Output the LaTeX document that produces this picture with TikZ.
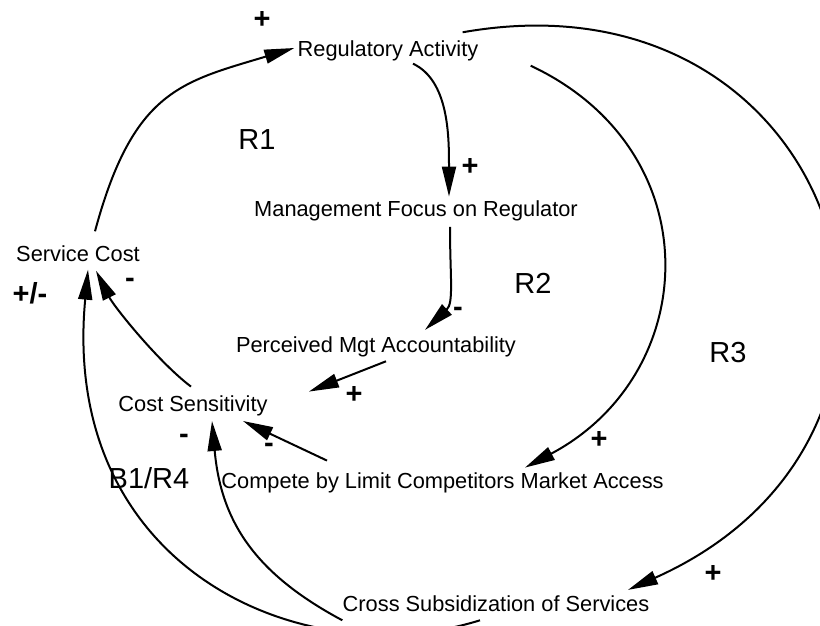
\documentclass[tikz,border=0pt]{standalone}
\usepackage{fontspec}
\setmainfont{Liberation Sans}
\usetikzlibrary{arrows.meta,calc}

\begin{document}
\begin{tikzpicture}[x=0.5pt,y=0.5pt,
  var/.style={anchor=base,inner sep=0pt,text height=8pt,text depth=2.3pt,font=\fontsize{10.9}{13}\selectfont},
  looplbl/.style={inner sep=0pt,font=\fontsize{14.5}{17}\selectfont},
  sgn/.style={inner sep=0pt,font=\fontsize{14.5}{17}\selectfont\bfseries},
  link/.style={line width=1pt,-{Triangle[length=15pt,width=7pt]}}]

\useasboundingbox (0,0) rectangle (820,626);

\node[var] (reg) at (388,569.3) {Regulatory Activity};
\node[var] (mgmt) at (416,409) {Management Focus on Regulator};
\node[var] (svc) at (78,364.3) {Service Cost};
\node[var] (perc) at (376,273.7) {Perceived Mgt Accountability};
\node[var] (costs) at (193,214) {Cost Sensitivity};
\node[var] (comp) at (442.5,137) {Compete by Limit Competitors Market Access};
\node[var] (cross) at (496,14.7) {Cross Subsidization of Services};

\node[looplbl] (r1) at (257,486) {R1};
\node[looplbl] (r2) at (533,343) {R2};
\node[looplbl] (r3) at (728,273) {R3};
\node[looplbl] (b1r4) at (149,148) {B1/R4};

\node[sgn] (s1) at (262,606) {+};
\node[sgn] (s2) at (470,459) {+};
\node[sgn] (s3) at (458,314) {-};
\node[sgn] (s4) at (30,333) {+/-};
\node[sgn] (s5) at (130,343) {-};
\node[sgn] (s6) at (354,231) {+};
\node[sgn] (s7) at (184,187) {-};
\node[sgn] (s8) at (269,178) {-};
\node[sgn] (s9) at (599,186) {+};
\node[sgn] (s10) at (713,52) {+};

\draw[link] ($(svc.north)+(17,14)$) .. controls +(38,141) and +(-113,-34) .. ($(reg.west)+(-3,3)$);
\draw[link] ($(reg.south)+(25,-2)$) .. controls +(36,-17) and +(0,60) .. ($(mgmt.north)+(33,4)$);
\draw[link] ($(mgmt.south)+(34,-5)$) .. controls +(0,-50) and +(29,27) .. ($(perc.north)+(49,6)$);
\draw[link] ($(perc.south)+(10,-4)$) -- ($(costs.north east)+(41,4)$);
\draw[link] ($(comp.north west)+(106,12)$) -- ($(costs.south)+(50,-4)$);
\draw[link] ($(costs.north)+(-2,9)$) .. controls +(-32,24) and +(18,-36) .. ($(svc.south)+(18,-4)$);
\draw[link] ($(cross.south)+(-16,-4)$) .. controls +(-180,-56) and +(-28,-297) .. ($(svc.south)+(10,-3)$);
\draw[link] ($(cross.south west)+(0,-4)$) .. controls +(-88,47) and +(9,-100) .. ($(costs.south)+(19,-4)$);
\draw[link] ($(reg.south east)+(52,-4)$) .. controls +(181,-85) and +(177,94) .. ($(comp.north)+(82.5,5)$);
\draw[link] ($(reg.north east)+(-16,8)$) .. controls +(384,68) and +(356,159) .. ($(cross.north)+(132,5)$);

\end{tikzpicture}
\end{document}
